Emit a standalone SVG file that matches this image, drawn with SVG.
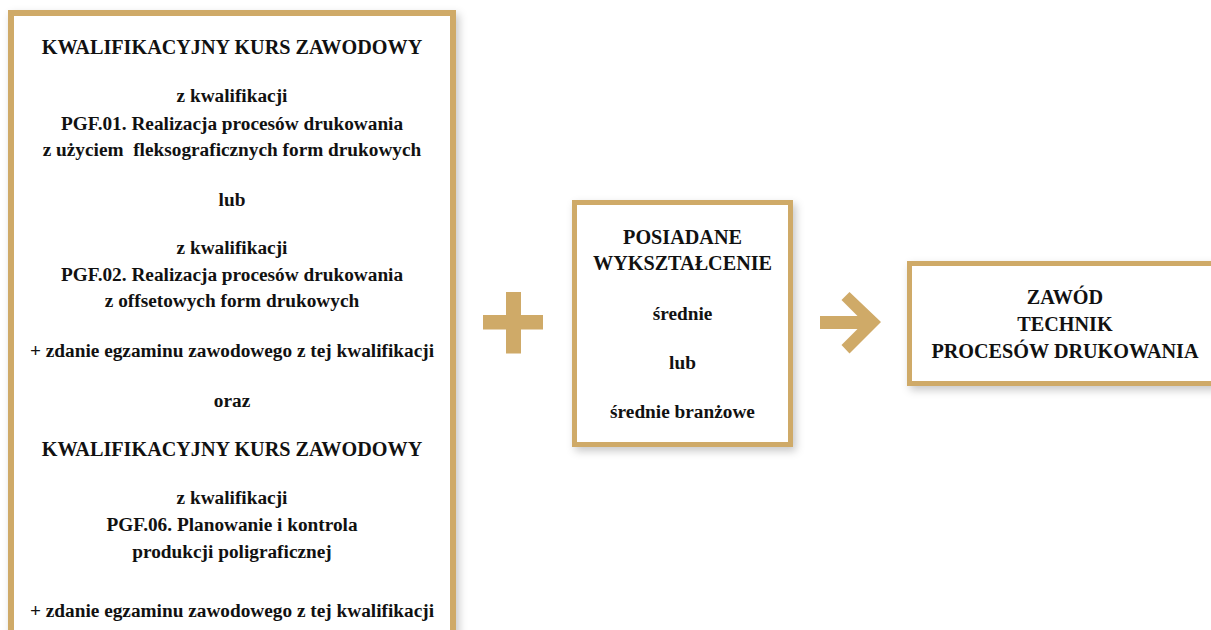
<svg xmlns="http://www.w3.org/2000/svg" width="1211" height="630" viewBox="0 0 1211 630">
  <defs>
    <filter id="shadow" x="-10%" y="-10%" width="130%" height="130%">
      <feDropShadow dx="3" dy="4" stdDeviation="4" flood-color="#000" flood-opacity="0.22"/>
    </filter>
  </defs>
  <style>
    .box { fill: #ffffff; stroke: #cfaa68; filter: url(#shadow); }
    .gold { fill: #cfaa68; }
    text { font-family: "Liberation Serif", "Times New Roman", serif; font-weight: bold; font-size: 19.3px; fill: #111111; text-anchor: middle; }
    text.cap { font-size: 20.2px; }
  </style>
  <rect width="1211" height="630" fill="#ffffff"/>

  <g id="node-left">
    <rect class="box" x="11" y="13" width="442" height="660" stroke-width="6"/>
    <text class="cap" x="232" y="54">KWALIFIKACYJNY KURS ZAWODOWY</text>
    <text x="232" y="102">z kwalifikacji</text>
    <text x="232" y="130">PGF.01. Realizacja procesów drukowania</text>
    <text x="232" y="156" xml:space="preserve">z użyciem  fleksograficznych form drukowych</text>
    <text x="232" y="206">lub</text>
    <text x="232" y="254">z kwalifikacji</text>
    <text x="232" y="281">PGF.02. Realizacja procesów drukowania</text>
    <text x="232" y="307">z offsetowych form drukowych</text>
    <text x="232" y="357">+ zdanie egzaminu zawodowego z tej kwalifikacji</text>
    <text x="232" y="407">oraz</text>
    <text class="cap" x="232" y="456">KWALIFIKACYJNY KURS ZAWODOWY</text>
    <text x="232" y="504">z kwalifikacji</text>
    <text x="232" y="531">PGF.06. Planowanie i kontrola</text>
    <text x="232" y="558">produkcji poligraficznej</text>
    <text x="232" y="617">+ zdanie egzaminu zawodowego z tej kwalifikacji</text>
  </g>

  <g id="node-middle">
    <rect class="box" x="574.5" y="202.5" width="216" height="242" stroke-width="5"/>
    <text class="cap" x="682.5" y="244">POSIADANE</text>
    <text class="cap" x="682.5" y="270">WYKSZTAŁCENIE</text>
    <text x="682.5" y="320">średnie</text>
    <text x="682.5" y="369">lub</text>
    <text x="682.5" y="418">średnie branżowe</text>
  </g>

  <g id="node-right">
    <rect class="box" x="909.5" y="263.5" width="330" height="120" stroke-width="5"/>
    <text class="cap" x="1065" y="304">ZAWÓD</text>
    <text class="cap" x="1065" y="331">TECHNIK</text>
    <text class="cap" x="1065" y="358">PROCESÓW DRUKOWANIA</text>
  </g>

  <g id="connectors">
    <g id="plus">
      <rect class="gold" x="483" y="315" width="60" height="14.5"/>
      <rect class="gold" x="506" y="292" width="15" height="61.5"/>
    </g>
    <g id="arrow">
      <polygon class="gold" points="820,316 857.5,316 841.5,300 849.5,292 881,322 849.5,353.5 841.5,345 857.5,329 820,329"/>
    </g>
  </g>
</svg>
